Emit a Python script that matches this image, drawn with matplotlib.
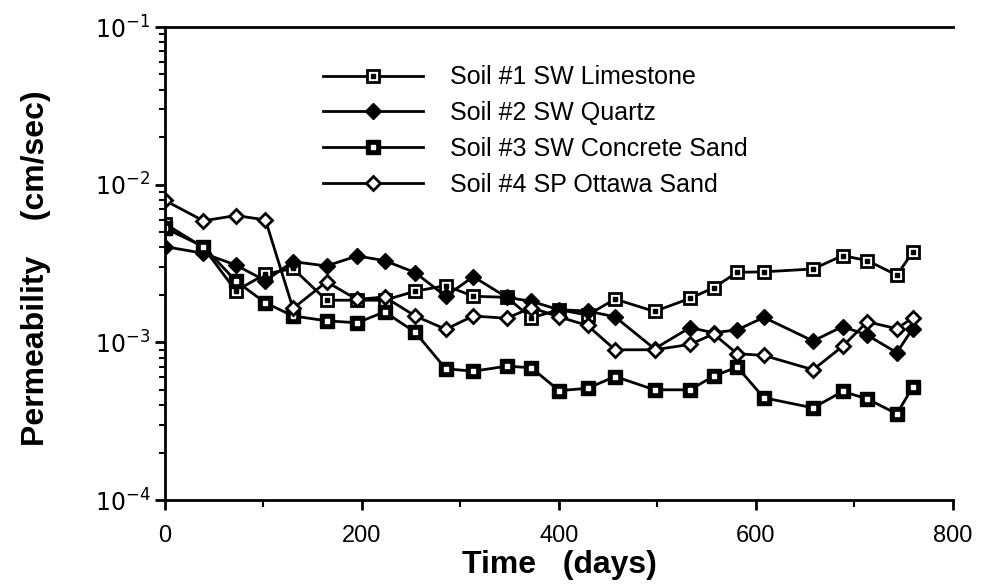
import matplotlib
matplotlib.use("Agg")
import matplotlib.pyplot as plt
from matplotlib.ticker import LogLocator, FixedLocator, NullFormatter
from matplotlib.legend_handler import HandlerTuple

# Data
days = [0, 39, 72, 102, 130, 164, 195, 223, 254, 285, 313, 347, 372,
        400, 429, 457, 497, 533, 557, 581, 608, 658, 688, 713, 743, 759]

soil1_limestone = [5.65e-3, 4.0e-3, 2.12e-3, 2.71e-3, 2.94e-3, 1.85e-3, 1.85e-3,
                   1.85e-3, 2.11e-3, 2.29e-3, 1.96e-3, 1.93e-3, 1.43e-3, 1.61e-3,
                   1.49e-3, 1.88e-3, 1.57e-3, 1.9e-3, 2.22e-3, 2.78e-3, 2.8e-3,
                   2.92e-3, 3.55e-3, 3.3e-3, 2.67e-3, 3.72e-3]
soil2_quartz = [4.05e-3, 3.67e-3, 3.09e-3, 2.46e-3, 3.25e-3, 3.05e-3, 3.53e-3,
                3.3e-3, 2.77e-3, 1.96e-3, 2.61e-3, 1.93e-3, 1.82e-3, 1.61e-3,
                1.58e-3, 1.45e-3, 9.1e-4, 1.24e-3, 1.15e-3, 1.2e-3, 1.44e-3,
                1.02e-3, 1.26e-3, 1.11e-3, 8.6e-4, 1.22e-3]
soil3_concrete = [5.3e-3, 4.05e-3, 2.45e-3, 1.78e-3, 1.47e-3, 1.37e-3, 1.33e-3,
                  1.56e-3, 1.16e-3, 6.8e-4, 6.56e-4, 7.06e-4, 6.9e-4, 4.94e-4,
                  5.11e-4, 6.07e-4, 5.0e-4, 5.0e-4, 6.1e-4, 6.97e-4, 4.45e-4,
                  3.84e-4, 4.88e-4, 4.38e-4, 3.52e-4, 5.19e-4]
soil4_ottawa = [7.94e-3, 5.9e-3, 6.37e-3, 5.98e-3, 1.64e-3, 2.42e-3, 1.87e-3,
                1.94e-3, 1.47e-3, 1.21e-3, 1.47e-3, 1.42e-3, 1.66e-3, 1.45e-3,
                1.28e-3, 8.97e-4, 8.97e-4, 9.7e-4, 1.13e-3, 8.47e-4, 8.26e-4,
                6.7e-4, 9.44e-4, 1.35e-3, 1.22e-3, 1.43e-3]

labels = ["Soil #1 SW Limestone", "Soil #2 SW Quartz",
          "Soil #3 SW Concrete Sand", "Soil #4 SP Ottawa Sand"]

plt.rcParams["font.family"] = ["Liberation Sans", "DejaVu Sans"]

fig = plt.figure(figsize=(9.86, 5.87), dpi=100)
ax = fig.add_axes([0.1673, 0.1482, 0.7992, 0.8058])

lw = 2.0
# Soil 1: open square with a dot inside
l1, = ax.plot(days, soil1_limestone, color="black", lw=lw, marker="s", ms=9,
              mfc="white", mec="black", mew=2)
d1, = ax.plot(days, soil1_limestone, ls="none", marker="s", ms=2.5, color="black")
# Soil 2: filled diamond
l2, = ax.plot(days, soil2_quartz, color="black", lw=lw, marker="D", ms=8,
              mfc="black", mec="black")
# Soil 3: filled square with a white dot
l3, = ax.plot(days, soil3_concrete, color="black", lw=lw, marker="s", ms=10,
              mfc="black", mec="black")
d3, = ax.plot(days, soil3_concrete, ls="none", marker="s", ms=2.5, color="white")
# Soil 4: open diamond
l4, = ax.plot(days, soil4_ottawa, color="black", lw=lw, marker="D", ms=7.5,
              mfc="white", mec="black", mew=2)

ax.set_yscale("log")
ax.set_xlim(0, 800)
ax.set_ylim(1e-4, 1e-1)

# axes frame: no right spine
ax.spines["right"].set_visible(False)
for s in ["left", "top", "bottom"]:
    ax.spines[s].set_linewidth(2)

ax.xaxis.set_major_locator(FixedLocator([0, 200, 400, 600, 800]))
ax.xaxis.set_minor_locator(FixedLocator([100, 300, 500, 700]))
ax.yaxis.set_minor_locator(LogLocator(base=10, subs=range(2, 10), numticks=20))
ax.yaxis.set_minor_formatter(NullFormatter())
ax.set_yticks([1e-4, 1e-3, 1e-2, 1e-1])
ax.set_yticklabels([r"$10^{-4}$", r"$10^{-3}$", r"$10^{-2}$", r"$10^{-1}$"])

ax.tick_params(which="major", direction="out", length=7, width=2, labelsize=17)
ax.tick_params(which="minor", direction="out", length=4, width=1.5)
ax.tick_params(axis="x", which="major", pad=11)
ax.tick_params(axis="x", which="minor", length=5)

ax.set_xlabel("Time   (days)", fontsize=23, fontweight="bold")
ax.xaxis.set_label_coords(0.5, -0.106)
ax.set_ylabel("Permeability    (cm/sec)", fontsize=23, fontweight="bold")
ax.yaxis.set_label_coords(-0.145, 0.49)

ax.legend([(l1, d1), l2, (l3, d3), l4], labels,
          handler_map={tuple: HandlerTuple(ndivide=1)},
          loc="upper left", bbox_to_anchor=(0.2, 0.919), frameon=False,
          fontsize=18, handlelength=4.0, handletextpad=1.1, labelspacing=0.47,
          borderpad=0, borderaxespad=0)

fig.savefig("out.png", dpi=100)
